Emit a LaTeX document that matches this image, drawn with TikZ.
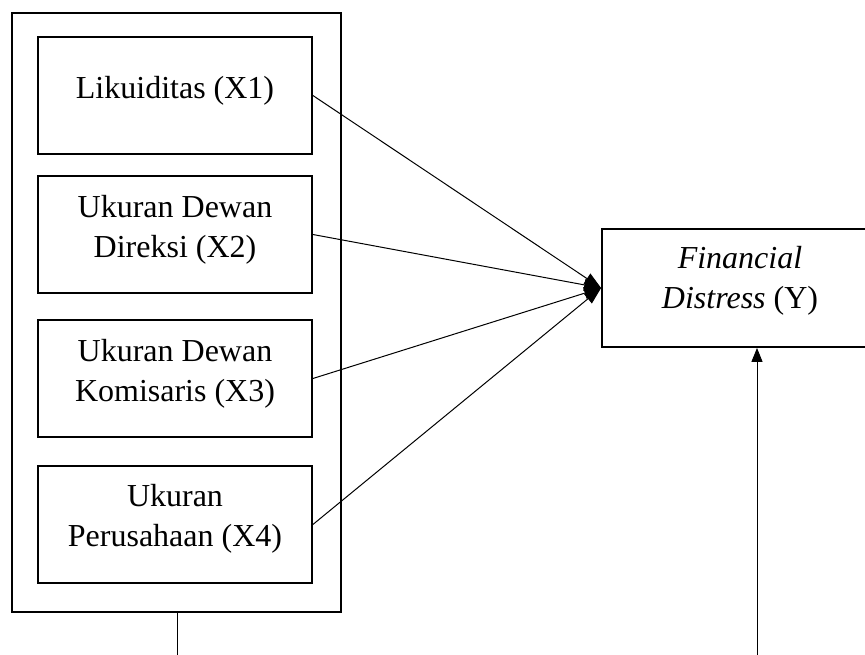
\documentclass[tikz,border=0pt]{standalone}
\usepackage{fontspec}
\setmainfont{Liberation Serif}
\usetikzlibrary{arrows.meta}
\begin{document}
\begin{tikzpicture}[x=1pt,y=-1pt,
  boxstyle/.style={draw,line width=1.8pt,inner sep=0pt,minimum width=274pt,minimum height=117pt},
  txt/.style={inner sep=0pt,align=center,font=\fontsize{32}{40}\selectfont},
  conn/.style={line width=1pt,-{Triangle[length=17pt,width=12pt]}}]
\clip (0,0) rectangle (865,655);
\fill[white] (0,0) rectangle (865,655);
\node[draw,line width=1.8pt,inner sep=0pt,minimum width=329pt,minimum height=599pt] (outer) at (176.5,312.5) {};
\node[boxstyle] (b1) at (175,95.5) {};
\node[boxstyle] (b2) at (175,234.5) {};
\node[boxstyle] (b3) at (175,378.5) {};
\node[boxstyle] (b4) at (175,524.5) {};
\node[boxstyle,minimum width=276pt,minimum height=118pt] (Y) at (740,288) {};
\node[txt] (t1) at ([yshift=5pt]b1.center) {Likuiditas (X1)};
\node[txt] (t2) at ([yshift=5pt]b2.center) {Ukuran Dewan\\Direksi (X2)};
\node[txt] (t3) at ([yshift=5pt]b3.center) {Ukuran Dewan\\Komisaris (X3)};
\node[txt] (t4) at ([yshift=6pt]b4.center) {Ukuran\\Perusahaan (X4)};
\node[txt] (tY) at ([yshift=7pt]Y.center) {\textit{Financial}\\\textit{Distress} (Y)};
\coordinate (bot1) at (177,660);
\coordinate (bot2) at (757,660);
\draw[conn] (b1.east) -- (Y.west);
\draw[conn] (b2.east) -- (Y.west);
\draw[conn] (b3.east) -- (Y.west);
\draw[conn] (b4.east) -- (Y.west);
\draw[line width=1pt] (outer.south -| bot1) -- (bot1);
\draw[line width=1pt,-{Triangle[length=14pt,width=11pt]}] (bot2) -- (bot2 |- Y.south);
\end{tikzpicture}
\end{document}
